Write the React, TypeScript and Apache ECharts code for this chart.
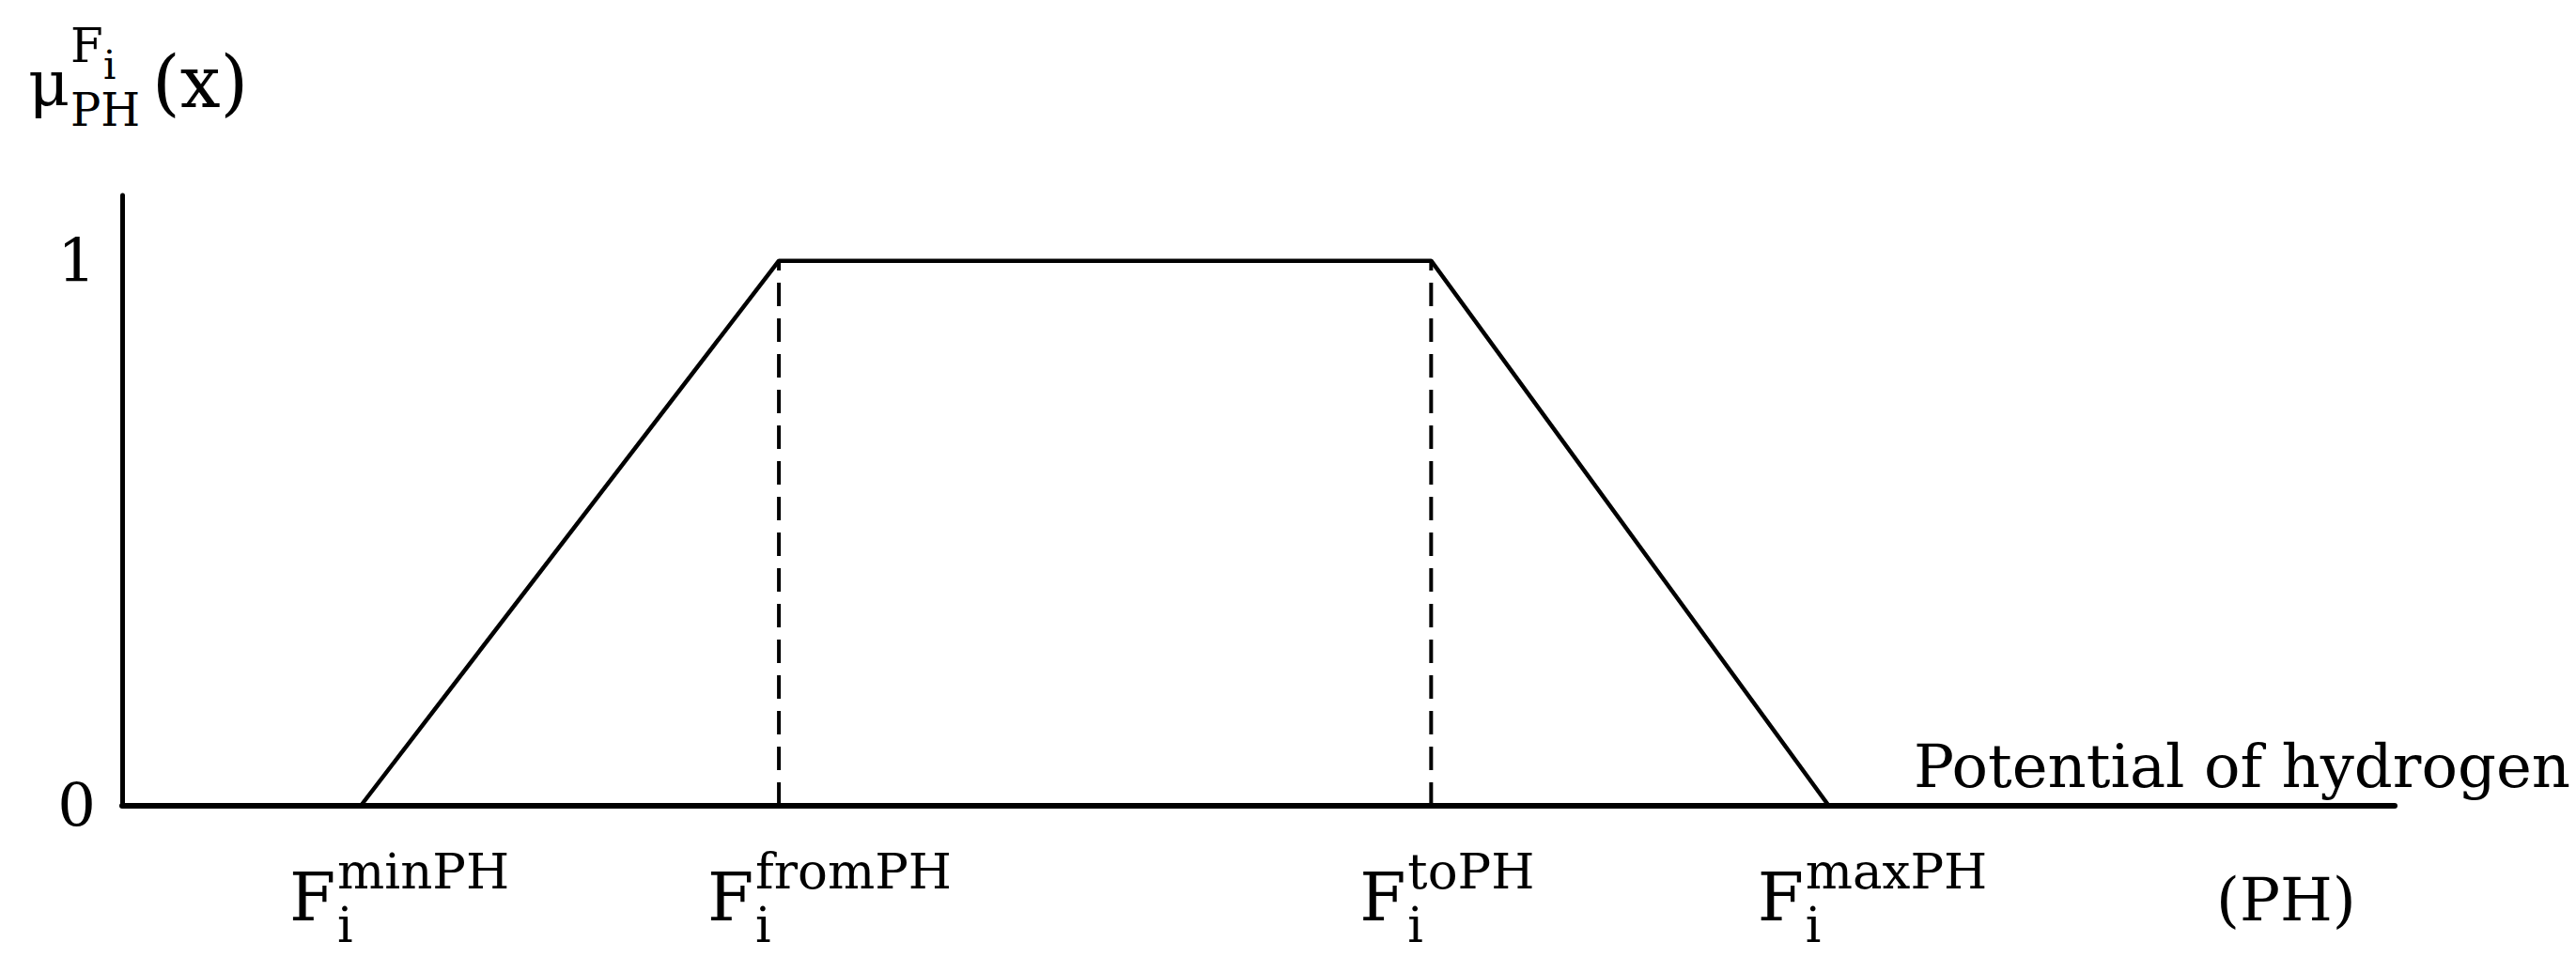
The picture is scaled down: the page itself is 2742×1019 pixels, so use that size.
import React, { useEffect, useRef } from 'react';
import * as echarts from 'echarts';

// ---- data ----
const breakpointNames = ['minPH', 'fromPH', 'toPH', 'maxPH'];
const breakpointX = [10.5, 28.9, 57.6, 75.1];
const membership = [0, 1, 1, 0];
const yTickValues = [0, 1];
const xAxisName = 'Potential of hydrogen';
const xUnit = '(PH)';
const tickBase = 'F';
const tickSub = 'i';
const yNameBase = 'μ';
const yNameSup = 'F';
const yNameSupSub = 'i';
const yNameSub = 'PH';
const yNameArg = '(x)';

const FONT = '"DejaVu Serif", "Liberation Serif", serif';
const INK = '#000';

function txt(text: string, x: number, baseline: number, size: number, lh = 0.9) {
  return {
    type: 'text',
    x,
    y: baseline - 0.35 * size,
    silent: true,
    style: {
      text,
      fontFamily: FONT,
      fontSize: size,
      lineHeight: Math.round(size * lh),
      fill: INK,
      textAlign: 'left',
      textVerticalAlign: 'middle',
      align: 'left',
      verticalAlign: 'middle',
    },
  };
}

export default function App() {
  const ref = useRef<HTMLDivElement>(null);

  useEffect(() => {
    document.body.style.margin = '0';
    const el = ref.current!;
    const chart = echarts.init(el, null, { renderer: 'svg' });

    const points = breakpointX.map((x, i) => [x, membership[i]]);
    const dashed = breakpointX
      .map((x, i) => ({ x, m: membership[i] }))
      .filter((p) => p.m > 0)
      .map((p) => ({
        type: 'line',
        data: [
          [p.x, 0],
          [p.x, p.m],
        ],
        symbol: 'none',
        silent: true,
        z: 1,
        lineStyle: { color: INK, width: 4, type: [25, 13] },
      }));

    chart.setOption({
      animation: false,
      backgroundColor: '#fff',
      grid: {
        left: 130,
        right: 193,
        top: 208,
        bottom: 161,
        containLabel: false,
        outerBoundsMode: 'none',
      },
      xAxis: {
        type: 'value',
        min: 0,
        max: 100,
        axisLine: { show: true, onZero: true, lineStyle: { color: INK, width: 6 } },
        axisTick: { show: false },
        axisLabel: { show: false },
        splitLine: { show: false },
        name: xAxisName,
        nameLocation: 'end',
        nameGap: 187,
        nameTextStyle: {
          fontFamily: FONT,
          fontSize: 64,
          color: INK,
          align: 'right',
          verticalAlign: 'bottom',
          lineHeight: 64,
          padding: [0, 0, 10, 0],
        },
      },
      yAxis: {
        type: 'value',
        min: 0,
        max: 1.12,
        interval: 1,
        axisLine: { show: true, lineStyle: { color: INK, width: 5 } },
        axisTick: { show: false },
        splitLine: { show: false },
        axisLabel: {
          show: true,
          fontFamily: FONT,
          fontSize: 64,
          color: INK,
          margin: 28,
          showMaxLabel: false,
          formatter: (v: number) => (yTickValues.includes(v) ? String(v) : ''),
        },
      },
      series: [
        {
          type: 'line',
          data: points,
          symbol: 'none',
          z: 3,
          lineStyle: { color: INK, width: 4.5 },
        },
        ...dashed,
      ],
    });

    const tickGroups = breakpointX.map((x, i) => {
      const p = chart.convertToPixel({ gridIndex: 0 }, [x, 0]) as number[];
      return {
        type: 'group',
        x: p[0],
        y: p[1],
        children: [
          txt(tickBase, -76, 122, 71),
          txt(breakpointNames[i], -25, 88, 53),
          txt(tickSub, -25, 145, 52),
        ],
      };
    });

    chart.setOption({
      graphic: [
        ...tickGroups,
        txt(yNameBase, 30, 112, 68, 0.7),
        txt(yNameSup, 75, 66, 50),
        txt(yNameSupSub, 110, 84, 42),
        txt(yNameSub, 75, 134, 48),
        txt(yNameArg, 162, 114, 76),
        txt(xUnit, 2359, 980, 64),
      ],
    });

    return () => chart.dispose();
  }, []);

  return <div ref={ref} style={{ width: 2742, height: 1019 }} />;
}
